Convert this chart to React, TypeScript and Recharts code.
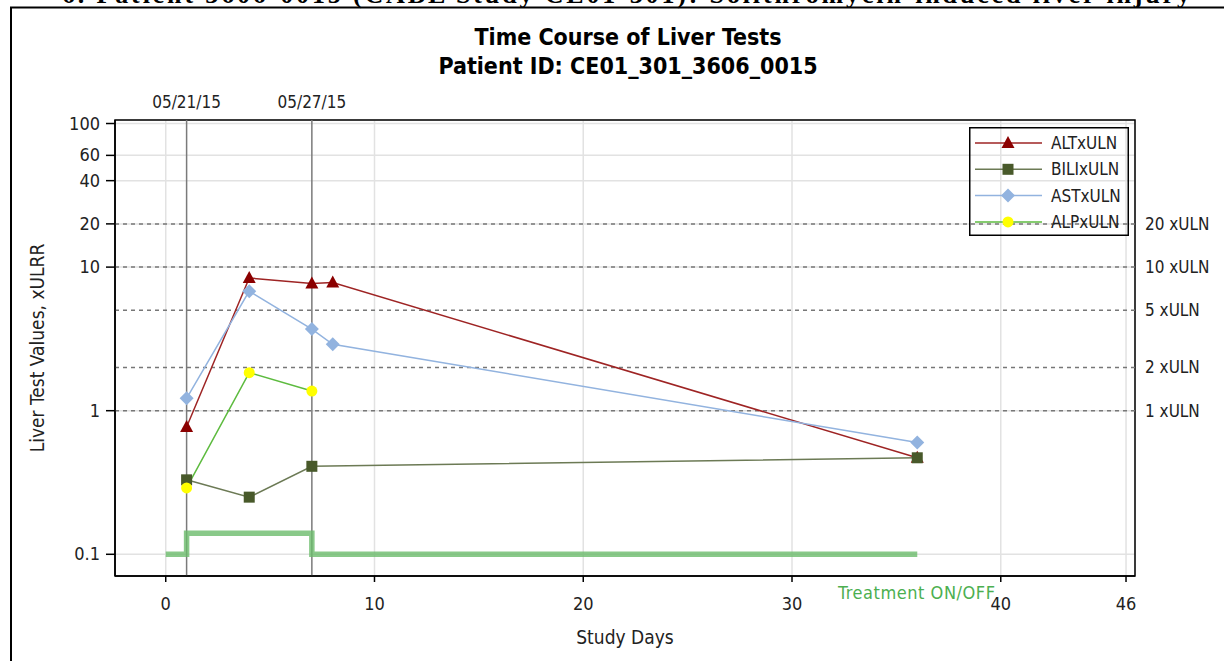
import React from "react";
import {
  CartesianGrid,
  ComposedChart,
  Legend,
  Line,
  ReferenceArea,
  ReferenceLine,
  XAxis,
  YAxis,
} from "recharts";

// study day / value pairs
const altDays = [1, 4, 7, 8, 36];
const altVals = [0.77, 8.4, 7.7, 7.8, 0.47];
const biliDays = [1, 4, 7, 36];
const biliVals = [0.33, 0.25, 0.41, 0.47];
const astDays = [1, 4, 7, 8, 36];
const astVals = [1.22, 6.8, 3.7, 2.9, 0.6];
const alpDays = [1, 4, 7];
const alpVals = [0.29, 1.84, 1.37];
const treatDays = [0, 1, 7, 36];
const treatVals = [0.1, 0.14, 0.1, 0.1];

const xTicks = [0, 10, 20, 30, 40, 46];
const yTicks = [0.1, 1, 10, 20, 30, 40, 50, 60, 70, 80, 90, 100];
const yLabeled = [0.1, 1, 10, 20, 40, 60, 100];
const ulnLevels = [20, 10, 5, 2, 1];
const eventDays = [1, 7];
const eventLabels = ["05/21/15", "05/27/15"];

const X_DOMAIN: [number, number] = [-2.43, 46.43];
const Y_DOMAIN: [number, number] = [0.0706, 105.8];

const FONT = "'Liberation Sans Narrow', 'Arial Narrow', 'DejaVu Sans Condensed', Arial, sans-serif";

const C = {
  alt: "#8b0000",
  altLine: "#9e2424",
  bili: "#48592a",
  biliLine: "#6c7a55",
  ast: "#92b3df",
  alpLine: "#5dbb3f",
  alp: "#ffff00",
  treat: "#6cbc6c",
};

const toPoints = (days: number[], vals: number[]) => days.map((d, i) => ({ day: d, v: vals[i] }));

const Triangle = (p: any) => (
  <path key={p.index} d={`M${p.cx},${p.cy - 7}L${p.cx + 6.5},${p.cy + 5}L${p.cx - 6.5},${p.cy + 5}Z`} fill={C.alt} />
);
const Square = (p: any) => <rect key={p.index} x={p.cx - 5.5} y={p.cy - 5.5} width={11} height={11} fill={C.bili} />;
const Diamond = (p: any) => (
  <path key={p.index} d={`M${p.cx},${p.cy - 7}L${p.cx + 7},${p.cy}L${p.cx},${p.cy + 7}L${p.cx - 7},${p.cy}Z`} fill={C.ast} />
);
const Dot = (p: any) => <circle key={p.index} cx={p.cx} cy={p.cy} r={5.5} fill={C.alp} />;

const legendItems = [
  { name: "ALTxULN", line: C.altLine, shape: "tri" },
  { name: "BILIxULN", line: C.biliLine, shape: "sq" },
  { name: "ASTxULN", line: C.ast, shape: "dia" },
  { name: "ALPxULN", line: C.alpLine, shape: "dot" },
];

function LegendBox() {
  return (
    <svg width={160} height={109} style={{ display: "block" }}>
      <rect x={0.75} y={0.75} width={158.5} height={107.5} fill="none" stroke="#000" strokeWidth={1.5} />
      {legendItems.map((it, i) => {
        const y = 16 + i * 26.3;
        const cx = 39;
        return (
          <g key={it.name}>
            <line x1={6} x2={73} y1={y} y2={y} stroke={it.line} strokeWidth={1.5} />
            {it.shape === "tri" && Triangle({ cx, cy: y })}
            {it.shape === "sq" && Square({ cx, cy: y })}
            {it.shape === "dia" && Diamond({ cx, cy: y })}
            {it.shape === "dot" && Dot({ cx, cy: y })}
            <text x={82} y={y + 6} fontSize={17} fontFamily={FONT} fill="#222">
              {it.name}
            </text>
          </g>
        );
      })}
    </svg>
  );
}

const YTick = (p: any) => {
  const v = p.payload.value;
  if (!yLabeled.includes(v)) return <g />;
  return (
    <text x={p.x} y={p.y + 6} textAnchor="end" fontSize={18} fontFamily={FONT} fill="#222">
      {v}
    </text>
  );
};

export default function App() {
  return (
    <div style={{ position: "absolute", left: 0, top: 0, width: 1224, height: 661, background: "#fff", overflow: "hidden" }}>
      <svg width={1224} height={661} style={{ position: "absolute", left: 0, top: 0 }}>
        <text x={62} y={3} fontSize={26} fontWeight="bold" fontFamily="'Liberation Serif', serif" textLength={1128} fill="#000">
          6.   Patient 3606-0015 (CABL Study CE01-301): Solithromycin-induced liver injury
        </text>
        <line x1={10} x2={1224} y1={7.5} y2={7.5} stroke="#000" strokeWidth={2} />
        <line x1={11} x2={11} y1={7} y2={661} stroke="#000" strokeWidth={2} />
        <text x={628} y={45} textAnchor="middle" fontSize={23} fontWeight="bold" fontFamily={FONT} fill="#000">
          Time Course of Liver Tests
        </text>
        <text x={628} y={74} textAnchor="middle" fontSize={23} fontWeight="bold" fontFamily={FONT} fill="#000">
          Patient ID: CE01_301_3606_0015
        </text>
        <text x={625} y={644} textAnchor="middle" fontSize={19} fontFamily={FONT} fill="#222">
          Study Days
        </text>
        <text x={44} y={348} textAnchor="middle" fontSize={19} fontFamily={FONT} fill="#222" transform="rotate(-90 44 348)">
          Liver Test Values, xULRR
        </text>
        <text x={838} y={599} fontSize={18} fontFamily={FONT} fill="#4caf50" textLength={157}>
          Treatment ON/OFF
        </text>
      </svg>
      <div style={{ position: "absolute", left: 0, top: 0 }}>
        <ComposedChart width={1224} height={661} margin={{ top: 120, right: 89, bottom: 0, left: 0 }}>
          <CartesianGrid stroke="#e2e2e2" strokeWidth={1.5} />
          <XAxis
            type="number"
            dataKey="day"
            domain={X_DOMAIN}
            allowDataOverflow
            ticks={xTicks}
            height={85}
            tickSize={6}
            tickMargin={15}
            axisLine={{ stroke: "#000", strokeWidth: 1.5 }}
            tickLine={{ stroke: "#000", strokeWidth: 1.5 }}
            tick={{ fontSize: 18, fontFamily: FONT, fill: "#222" }}
          />
          <YAxis
            type="number"
            scale="log"
            domain={Y_DOMAIN}
            allowDataOverflow
            ticks={yTicks}
            width={115}
            tickSize={9}
            tickMargin={6}
            axisLine={{ stroke: "#000", strokeWidth: 1.5 }}
            tickLine={{ stroke: "#000", strokeWidth: 1.5 }}
            tick={YTick}
          />
          <ReferenceArea x1={X_DOMAIN[0]} x2={X_DOMAIN[1]} y1={Y_DOMAIN[0]} y2={Y_DOMAIN[1]} fill="none" stroke="#000" strokeWidth={1.5} fillOpacity={0} />
          {ulnLevels.map((u) => (
            <ReferenceLine
              key={u}
              y={u}
              stroke="#777"
              strokeWidth={1.5}
              strokeDasharray="4 4"
              label={(lp: any) => (
                <text x={lp.viewBox.x + lp.viewBox.width + 10} y={lp.viewBox.y + 6} fontSize={17} fontFamily={FONT} fill="#222">
                  {u} xULN
                </text>
              )}
            />
          ))}
          {eventDays.map((d, i) => (
            <ReferenceLine
              key={d}
              x={d}
              stroke="#7a7a7a"
              strokeWidth={1.5}
              label={(lp: any) => (
                <text x={lp.viewBox.x} y={lp.viewBox.y - 12} textAnchor="middle" fontSize={17} fontFamily={FONT} fill="#222">
                  {eventLabels[i]}
                </text>
              )}
            />
          ))}
          <Line
            data={toPoints(treatDays, treatVals)}
            dataKey="v"
            type="stepAfter"
            stroke={C.treat}
            strokeOpacity={0.8}
            strokeWidth={5.5}
            dot={false}
            isAnimationActive={false}
          />
          <Line data={toPoints(altDays, altVals)} dataKey="v" stroke={C.altLine} strokeWidth={1.5} dot={Triangle} activeDot={false} isAnimationActive={false} />
          <Line data={toPoints(astDays, astVals)} dataKey="v" stroke={C.ast} strokeWidth={1.5} dot={Diamond} activeDot={false} isAnimationActive={false} />
          <Line data={toPoints(biliDays, biliVals)} dataKey="v" stroke={C.biliLine} strokeWidth={1.5} dot={Square} activeDot={false} isAnimationActive={false} />
          <Line data={toPoints(alpDays, alpVals)} dataKey="v" stroke={C.alpLine} strokeWidth={1.5} dot={Dot} activeDot={false} isAnimationActive={false} />
          <Legend
            layout="vertical"
            align="center"
            verticalAlign="middle"
            content={() => <LegendBox />}
            wrapperStyle={{ left: 969, top: 127, width: 160, height: 109 }}
          />
        </ComposedChart>
      </div>
    </div>
  );
}
